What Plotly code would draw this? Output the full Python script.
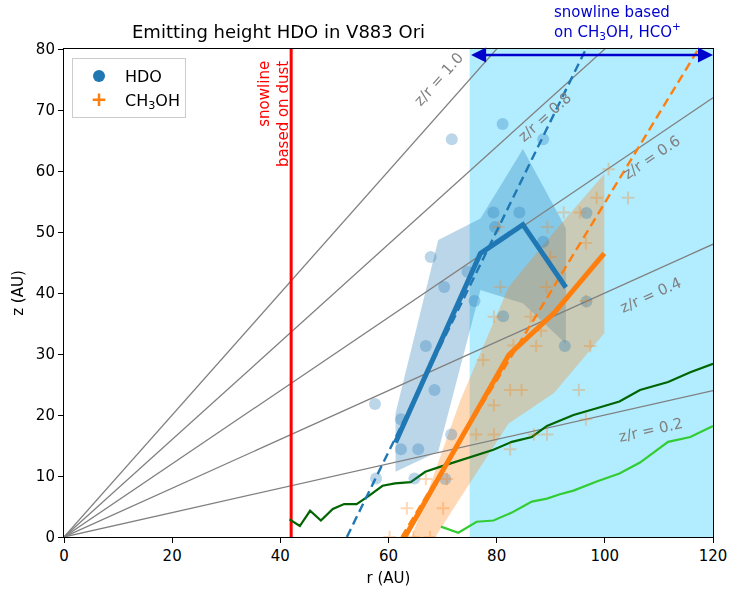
import math
import plotly.graph_objects as go

# ---------------- data ----------------
# HDO emitting points (r, z) in AU
hdo_r = [81.1, 71.7, 88.6, 79.4, 84.2, 79.7, 88.6, 67.8, 74.6, 70.3, 75.9, 96.6, 96.6,
         92.6, 81.2, 66.9, 68.5, 57.5, 62.3, 62.3, 65.5, 71.6, 64.8, 70.5, 57.7]
hdo_z = [67.7, 65.2, 65.2, 53.2, 53.2, 50.8, 48.4, 45.9, 43.5, 41.0, 38.7, 53.1, 38.6,
         31.3, 36.2, 31.3, 24.1, 21.8, 19.3, 14.4, 14.4, 16.8, 9.6, 9.5, 9.6]

# CH3OH emitting points (r, z) in AU
ch3_r = [100.7, 98.5, 104.3, 92.4, 95.4, 80.3, 89.4, 96.5, 89.9, 80.7, 89.2, 96.5, 79.5,
         86.3, 88.2, 83.1, 87.3, 97.3, 77.5, 82.5, 84.6, 95.2, 79.5, 96.5, 76.2, 79.5,
         86.9, 89.3, 82.5, 66.9, 70.8, 63.4, 70.1, 60.2, 64.6, 67.7]
ch3_z = [60.3, 55.6, 55.6, 53.2, 53.2, 50.8, 50.8, 48.2, 45.9, 41.0, 41.0, 38.7, 36.1,
         36.1, 33.8, 31.4, 31.3, 31.3, 29.0, 24.1, 24.1, 24.1, 21.6, 19.3, 16.8, 16.8,
         16.8, 16.8, 14.4, 9.5, 9.5, 4.7, 4.7, 0.0, 0.0, 0.0]

# binned medians and spread
hdo_bin_r = [61.3, 69.2, 77.0, 84.85, 92.8]
hdo_med = [15.5, 31.3, 46.5, 51.2, 40.9]
hdo_hi = [20.3, 48.7, 52.2, 63.6, 50.6]
hdo_lo = [10.7, 14.0, 40.5, 38.3, 31.7]

ch3_bin_r = [60.0, 73.2, 82.2, 90.6, 99.9]
ch3_med = [-4.7, 15.9, 29.8, 36.7, 46.5]
ch3_hi = [-10.7, 22.2, 41.0, 50.0, 59.5]
ch3_lo = [-12.0, 6.3, 18.6, 23.6, 33.4]

# linear fits (dashed)
hdo_fit_r = [52.3, 96.5]
hdo_fit_z = [0.0, 80.0]
ch3_fit_r = [62.4, 117.3]
ch3_fit_z = [0.0, 80.0]

# model curves
dark_r = [41.7, 43.6, 45.5, 47.5, 49.7, 51.8, 54.1, 56.3, 58.9, 61.2, 64.1, 66.8, 69.5,
          72.4, 75.6, 79.4, 82.8, 86.5, 89.3, 94.2, 98.5, 102.7, 106.5, 111.7, 115.8, 120.0]
dark_z = [2.9, 1.8, 4.3, 2.7, 4.6, 5.4, 5.4, 6.7, 8.4, 8.8, 9.0, 10.7, 11.5,
          12.3, 13.2, 14.3, 15.6, 16.4, 18.2, 20.0, 21.1, 22.2, 24.1, 25.4, 27.0, 28.4]
light_r = [69.7, 72.9, 76.3, 79.4, 82.8, 86.5, 89.3, 91.7, 94.2, 98.5, 102.7, 106.5, 111.7, 115.8, 120.0]
light_z = [1.7, 0.7, 2.5, 2.7, 4.0, 5.8, 6.3, 7.0, 7.6, 9.1, 10.4, 12.2, 15.6, 16.4, 18.2]

# z/r reference lines
zr_ratios = [0.2, 0.4, 0.6, 0.8, 1.0]
zr_label_pos = {0.2: (108.5, 17.6), 0.4: (108.5, 39.7), 0.6: (108.7, 62.3),
                0.8: (88.9, 68.9), 1.0: (69.3, 75.1)}

snow_dust_r = 42.0
snow_chem_r = [75.0, 120.0]
x_range = [0, 120]
y_range = [0, 80]

# ---------------- figure ----------------
FONT = "DejaVu Sans"
BLUE = "#1f77b4"
ORANGE = "#ff7f0e"
W, H = 731, 592
ML, MR, MT, MB = 64, 18, 49, 55
PW, PH = W - ML - MR, H - MT - MB

fig = go.Figure()

# shaded region for chemical snowline
fig.add_shape(type="rect", xref="x", yref="y", x0=snow_chem_r[0], x1=snow_chem_r[1],
              y0=y_range[0], y1=y_range[1], fillcolor="rgba(0,191,255,0.3)",
              line=dict(width=0), layer="below")

# bands
fig.add_trace(go.Scatter(x=hdo_bin_r + hdo_bin_r[::-1], y=hdo_hi + hdo_lo[::-1],
                         fill="toself", fillcolor="rgba(31,119,180,0.3)",
                         line=dict(width=0), mode="lines", showlegend=False, hoverinfo="skip"))
fig.add_trace(go.Scatter(x=ch3_bin_r + ch3_bin_r[::-1], y=ch3_hi + ch3_lo[::-1],
                         fill="toself", fillcolor="rgba(255,127,14,0.3)",
                         line=dict(width=0), mode="lines", showlegend=False, hoverinfo="skip"))

# z/r lines
for q in zr_ratios:
    fig.add_trace(go.Scatter(x=[0, x_range[1]], y=[0, x_range[1] * q], mode="lines",
                             line=dict(color="gray", width=1.3), showlegend=False, hoverinfo="skip"))

# red dust snowline
fig.add_trace(go.Scatter(x=[snow_dust_r, snow_dust_r], y=y_range, mode="lines",
                         line=dict(color="red", width=3), showlegend=False))

# model curves
fig.add_trace(go.Scatter(x=dark_r, y=dark_z, mode="lines",
                         line=dict(color="darkgreen", width=2.2), showlegend=False))
fig.add_trace(go.Scatter(x=light_r, y=light_z, mode="lines",
                         line=dict(color="limegreen", width=2.2), showlegend=False))

# scatter points
fig.add_trace(go.Scatter(x=hdo_r, y=hdo_z, mode="markers", opacity=0.3,
                         marker=dict(symbol="circle", size=12, color=BLUE),
                         showlegend=False))
fig.add_trace(go.Scatter(x=ch3_r, y=ch3_z, mode="markers", opacity=0.3,
                         marker=dict(symbol="cross-thin", size=9,
                                     line=dict(width=2, color=ORANGE)),
                         showlegend=False))

# fits
fig.add_trace(go.Scatter(x=hdo_fit_r, y=hdo_fit_z, mode="lines",
                         line=dict(color=BLUE, width=2.4, dash="9px,5px"), showlegend=False))
fig.add_trace(go.Scatter(x=ch3_fit_r, y=ch3_fit_z, mode="lines",
                         line=dict(color=ORANGE, width=2.4, dash="9px,5px"), showlegend=False))

# medians
fig.add_trace(go.Scatter(x=hdo_bin_r, y=hdo_med, mode="lines",
                         line=dict(color=BLUE, width=5), showlegend=False))
fig.add_trace(go.Scatter(x=ch3_bin_r, y=ch3_med, mode="lines",
                         line=dict(color=ORANGE, width=5), showlegend=False))

# legend entries
fig.add_trace(go.Scatter(x=[None], y=[None], mode="markers", name="HDO",
                         marker=dict(symbol="circle", size=12, color=BLUE)))
fig.add_trace(go.Scatter(x=[None], y=[None], mode="markers", name="CH<sub>3</sub>OH",
                         marker=dict(symbol="cross-thin", size=9, line=dict(width=2.5, color=ORANGE))))

annotations = []
# z/r labels
for q in zr_ratios:
    ang = math.degrees(math.atan(q * (PH / (y_range[1] - y_range[0])) / (PW / (x_range[1] - x_range[0]))))
    lx, ly = zr_label_pos[q]
    annotations.append(dict(x=lx, y=ly, xref="x", yref="y", text=f"z/r = {q:.1f}",
                            showarrow=False, textangle=-ang,
                            font=dict(family=FONT, size=15, color="gray")))
# dust snowline label
annotations.append(dict(x=38.8, y=69.3, xref="x", yref="y", text="snowline<br>based on dust",
                        showarrow=False, textangle=-90, align="right",
                        font=dict(family=FONT, size=15, color="red")))
# chemical snowline label and arrow
annotations.append(dict(x=(551.7 - ML) / PW, y=(MT + PH - 22) / PH, xref="paper", yref="paper",
                        text="snowline based<br>on CH<sub>3</sub>OH, HCO<sup>+</sup>",
                        showarrow=False, align="left", xanchor="left", yanchor="middle",
                        font=dict(family=FONT, size=15, color="mediumblue")))
annotations.append(dict(x=snow_chem_r[1], y=79, ax=snow_chem_r[0], ay=79, xref="x", yref="y",
                        axref="x", ayref="y", text="", showarrow=True, arrowside="end+start",
                        arrowhead=2, arrowsize=1.2, arrowwidth=2.5, arrowcolor="mediumblue"))
# title
annotations.append(dict(x=(278 - ML) / PW, y=(MT + PH - 32) / PH, xref="paper", yref="paper",
                        text="Emitting height HDO in V883 Ori", showarrow=False,
                        xanchor="center", yanchor="middle",
                        font=dict(family=FONT, size=18, color="black")))

axis_common = dict(showline=True, linecolor="black", linewidth=1.1, mirror=True,
                   ticks="outside", ticklen=5, tickwidth=1.1, tickcolor="black",
                   showgrid=False, zeroline=False, automargin=False,
                   tickfont=dict(family=FONT, size=15, color="black"))

fig.update_layout(
    width=W, height=H,
    margin=dict(l=ML, r=MR, t=MT, b=MB),
    plot_bgcolor="white", paper_bgcolor="white",
    xaxis=dict(range=x_range, tickvals=[0, 20, 40, 60, 80, 100, 120],
               title=dict(text="r (AU)", font=dict(family=FONT, size=15, color="black"), standoff=8),
               **axis_common),
    yaxis=dict(range=y_range, tickvals=[0, 10, 20, 30, 40, 50, 60, 70, 80],
               title=dict(text="z (AU)", font=dict(family=FONT, size=15, color="black"), standoff=8),
               **axis_common),
    legend=dict(x=(72 - ML) / PW, y=(MT + PH - 58) / PH, xanchor="left", yanchor="top",
                itemwidth=42,
                bgcolor="rgba(255,255,255,0.85)", bordercolor="#cccccc", borderwidth=1,
                font=dict(family=FONT, size=16, color="black")),
    annotations=annotations,
)

fig.write_html("out.html")
